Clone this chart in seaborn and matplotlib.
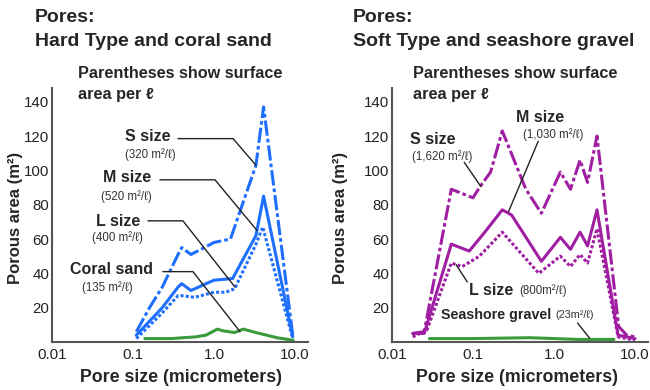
import numpy as np
import pandas as pd
import matplotlib
matplotlib.use('Agg')
import matplotlib.pyplot as plt
import seaborn as sns
from matplotlib.ticker import FixedLocator, NullFormatter

# Hard Type and coral sand (left panel)
hard_s_x = [0.11, 0.16, 0.23, 0.36, 0.4, 0.52, 0.76, 1.0, 1.6, 3.3, 4.1, 9.4]
hard_s_y = [6, 20, 32, 51, 55, 51, 55, 58, 60, 103, 137, 4]
hard_m_x = [0.11, 0.23, 0.36, 0.4, 0.52, 0.8, 1.0, 1.7, 3.3, 4.1, 9.4]
hard_m_y = [4, 20, 32, 34, 30, 34, 36, 37, 62, 85, 3]
hard_l_x = [0.11, 0.23, 0.36, 0.4, 0.58, 1.0, 1.4, 1.8, 3.3, 4.0, 9.4]
hard_l_y = [2, 17, 27, 27, 26, 29, 29, 31, 57, 67, 2]
coral_x = [0.14, 0.3, 0.6, 0.8, 1.1, 1.3, 1.8, 2.3, 3.3, 6.0, 9.5]
coral_y = [2, 2, 3, 4, 7.5, 6.5, 5.5, 7.5, 5.5, 2.5, 1]

# Soft Type and seashore gravel (right panel)
soft_s_x = [0.018, 0.025, 0.054, 0.1, 0.12, 0.165, 0.23, 0.45, 0.7, 1.2, 1.6, 2.1, 2.6, 3.4, 6.3, 7.9, 10.0]
soft_s_y = [5, 6, 89, 84, 90, 99, 123, 89, 75, 99, 89, 106, 93, 120, 9, 4, 3]
soft_m_x = [0.018, 0.025, 0.054, 0.09, 0.14, 0.23, 0.3, 0.7, 1.2, 1.6, 2.1, 2.6, 3.4, 6.2, 10.0]
soft_m_y = [5, 5, 57, 53, 64, 77, 74, 47, 61, 54, 64, 56, 77, 4, 2]
soft_l_x = [0.018, 0.027, 0.054, 0.074, 0.12, 0.23, 0.65, 1.2, 1.6, 2.1, 2.6, 3.4, 6.2, 10.0]
soft_l_y = [3, 7, 46, 44, 50, 64, 40, 50, 44, 51, 46, 66, 3, 1]
gravel_x = [0.029, 0.1, 0.5, 1.0, 2.0, 5.5]
gravel_y = [2, 2, 2.5, 2, 1.5, 1.5]

SERIES = ['S size', 'M size', 'L size', 'Ground']
DASHES = {'S size': (5, 1, 1.2, 1), 'M size': '', 'L size': (1.0, 0.7), 'Ground': ''}
GREEN = '#3b9a3b'
BLUE = '#1f6fff'
PURPLE = '#a01ea2'

sns.set_style('white')
plt.rcParams['font.family'] = ['Liberation Sans', 'DejaVu Sans']

fig = plt.figure(figsize=(6.5, 3.9), dpi=100)
ax_l = fig.add_axes([52 / 650, 48 / 390, 256 / 650, 254 / 390])
ax_r = fig.add_axes([392 / 650, 48 / 390, 256 / 650, 254 / 390])


def make_df(parts):
    frames = []
    for name, xs, ys in parts:
        frames.append(pd.DataFrame({'pore': xs, 'area': ys, 'series': name}))
    return pd.concat(frames, ignore_index=True)


hard_df = make_df([('S size', hard_s_x, hard_s_y), ('M size', hard_m_x, hard_m_y),
                   ('L size', hard_l_x, hard_l_y), ('Ground', coral_x, coral_y)])
soft_df = make_df([('S size', soft_s_x, soft_s_y), ('M size', soft_m_x, soft_m_y),
                   ('L size', soft_l_x, soft_l_y), ('Ground', gravel_x, gravel_y)])


def style_axis(ax, df, color):
    palette = {'S size': color, 'M size': color, 'L size': color, 'Ground': GREEN}
    sns.lineplot(data=df, x='pore', y='area', hue='series', style='series',
                 hue_order=SERIES, style_order=SERIES, palette=palette, dashes=DASHES,
                 estimator=None, sort=False, legend=False, lw=2.2, ax=ax)
    ax.set_xscale('log')
    ax.set_xlim(0.01, 14.5)
    ax.set_ylim(0, 148)
    for side in ['top', 'right']:
        ax.spines[side].set_visible(False)
    for side in ['left', 'bottom']:
        ax.spines[side].set_color('#555555')
        ax.spines[side].set_linewidth(1.5)
    ax.set_xticks([0.01, 0.1, 1.0, 10.0])
    ax.set_xticklabels(['0.01', '0.1', '1.0', '10.0'])
    minors = [10 ** (e + k / 4) for e in (-2, -1, 0) for k in (1, 2, 3)]
    ax.xaxis.set_minor_locator(FixedLocator(minors))
    ax.xaxis.set_minor_formatter(NullFormatter())
    ax.set_yticks([20, 40, 60, 80, 100, 120, 140])
    ax.tick_params(axis='x', which='major', direction='in', length=14, width=1.3,
                   color='#555555', labelsize=11, pad=4, labelcolor='#222222')
    ax.tick_params(axis='x', which='minor', direction='in', length=8, width=1.3,
                   color='#444444')
    ax.tick_params(axis='y', direction='in', length=7, width=1.3, color='#555555',
                   labelsize=10.8, pad=2, labelcolor='#222222')
    ax.set_xlabel('Pore size (micrometers)', fontsize=12.8, fontweight='bold')
    ax.set_ylabel('Porous area (m²)', fontsize=12, fontweight='bold')
    ax.set_facecolor('none')


style_axis(ax_l, hard_df, BLUE)
style_axis(ax_r, soft_df, PURPLE)
ax_l.xaxis.set_label_coords(0.504, -0.105)
ax_l.yaxis.set_label_coords(-0.112, 0.49)
ax_r.xaxis.set_label_coords(0.49, -0.105)
ax_r.yaxis.set_label_coords(-0.17, 0.49)

# titles
for x0, txt in [(35, 'Pores:\nHard Type and coral sand'),
                (353, 'Pores:\nSoft Type and seashore gravel')]:
    fig.text(x0 / 650, 1 - 9 / 390, txt, fontsize=14, fontweight='bold',
             va='top', ha='left', linespacing=1.5)
for x0 in [78, 413]:
    fig.text(x0 / 650, 1 - 66 / 390, 'Parentheses show surface\narea per ℓ',
             fontsize=11.7, fontweight='bold', va='top', ha='left', linespacing=1.5)

BIG = dict(fontsize=11.5, fontweight='bold', ha='center', va='center')
SMALL = dict(fontsize=8.3, ha='center', va='center', color='#333333')
LEAD = dict(color='#222222', lw=1.0)

# left annotations
ax_l.text(0.153, 120, 'S size', **BIG)
ax_l.text(0.162, 109, '(320 m²/ℓ)', **SMALL)
ax_l.plot([0.36, 1.72, 3.3], [118.5, 118.5, 103], **LEAD)
ax_l.text(0.084, 96, 'M size', **BIG)
ax_l.text(0.084, 85, '(520 m²/ℓ)', **SMALL)
ax_l.plot([0.215, 1.03, 3.4], [94.5, 94.5, 65], **LEAD)
ax_l.text(0.065, 70, 'L size', **BIG)
ax_l.text(0.065, 61, '(400 m²/ℓ)', **SMALL)
ax_l.plot([0.153, 0.414, 1.82], [70.6, 70.6, 32], **LEAD)
ax_l.text(0.055, 42, 'Coral sand', **BIG)
ax_l.text(0.048, 31.5, '(135 m²/ℓ)', **SMALL)
ax_l.plot([0.234, 0.55, 2.1], [41, 41, 6], **LEAD)

# right annotations
ax_r.text(0.0316, 118, 'S size', **BIG)
ax_r.text(0.042, 108, '(1,620 m²/ℓ)', **SMALL)
ax_r.plot([0.078, 0.125], [104.7, 90.6], **LEAD)
ax_r.text(0.675, 131, 'M size', **BIG)
ax_r.text(0.97, 121, '(1,030 m²/ℓ)', **SMALL)
ax_r.plot([0.64, 0.275], [117, 76], **LEAD)
ax_r.text(0.089, 30, 'L size', fontsize=11.5, fontweight='bold', ha='left', va='center')
ax_r.text(0.37, 30, '(800m²/ℓ)', fontsize=8.3, ha='left', va='center', color='#333333')
ax_r.plot([0.062, 0.085], [45, 35], **LEAD)
ax_r.text(0.0407, 16, 'Seashore gravel', fontsize=10.3, fontweight='bold', ha='left', va='center')
ax_r.text(1.05, 16, '(23m²/ℓ)', fontsize=7.8, ha='left', va='center', color='#333333')
ax_r.plot([1.96, 2.75], [11, 2.3], **LEAD)

fig.savefig('out.png', dpi=100)
